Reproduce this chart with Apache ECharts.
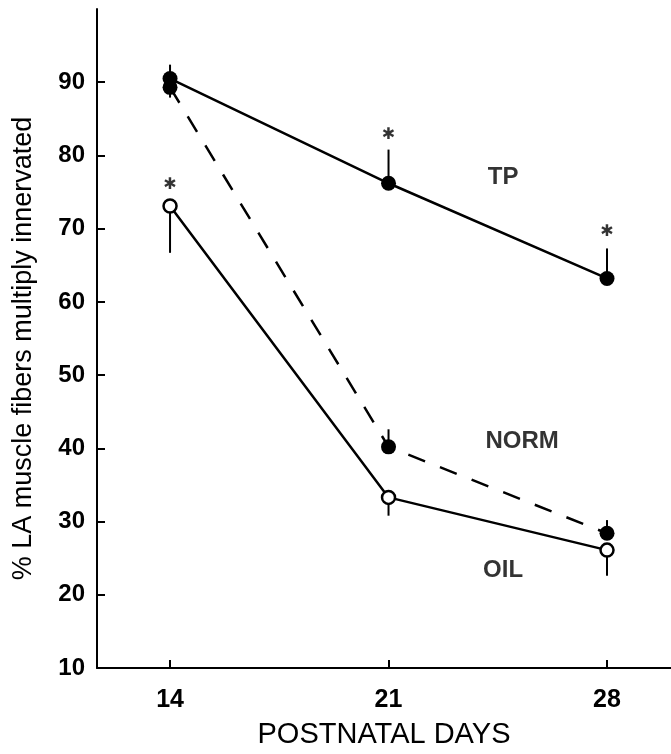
<!DOCTYPE html>
<html>
<head>
<meta charset="utf-8">
<script src="https://cdn.jsdelivr.net/npm/echarts@6/dist/echarts.min.js"></script>
<style>
  html, body { margin: 0; padding: 0; background: #fff; }
  #chart { width: 671px; height: 754px; }
</style>
</head>
<body>
<div id="chart"></div>
<script>
// postnatal days
const days = [14, 21, 28];

// % muscle fibers multiply innervated
const tpValues = [90.5, 76.2, 63.2];
const normValues = [89.3, 40.2, 28.4];
const oilValues = [73.1, 33.3, 26.1];

// error bar ends (one side only, as drawn)
const tpErrEnd = [92.4, 80.8, 67.3];
const normErrEnd = [87.9, 42.6, 30.2];
const oilErrEnd = [66.7, 30.8, 22.6];

// significance asterisks
const starDays = [14, 21, 28];
const starValues = [76.0, 82.8, 69.6];

// curve labels
const curveNames = ['TP', 'NORM', 'OIL'];
const curveNameX = [24.67, 25.28, 24.67];
const curveNameY = [77.0, 41.0, 23.4];

const yTicks = [10, 20, 30, 40, 50, 60, 70, 80, 90];

const font = "'Liberation Sans', Arial, sans-serif";

const pairs = vals => days.map((d, i) => [d, vals[i]]);
const errData = (vals, ends) => days.map((d, i) => [d, vals[i], ends[i]]);

const chart = echarts.init(document.getElementById('chart'));

// one-sided error bar, from the mean to the drawn end
const errSeries = (vals, ends) => ({
  type: 'custom',
  data: errData(vals, ends),
  z: 1,
  silent: true,
  renderItem: (params, api) => {
    const a = api.coord([api.value(0), api.value(1)]);
    const b = api.coord([api.value(0), api.value(2)]);
    return {
      type: 'line',
      shape: { x1: a[0], y1: a[1], x2: b[0], y2: b[1] },
      style: { stroke: '#000', lineWidth: 2 }
    };
  }
});

const option = {
  animation: false,
  backgroundColor: '#fff',
  grid: { left: 97, right: 0, top: 9, bottom: 77 },
  xAxis: {
    type: 'value',
    min: 11.66,
    max: 30.05,
    name: 'POSTNATAL DAYS',
    nameLocation: 'middle',
    nameGap: 52,
    nameTextStyle: { color: '#000', fontSize: 29, fontFamily: font },
    axisLine: { lineStyle: { color: '#000', width: 2 } },
    axisTick: { inside: true, length: 8, customValues: days, lineStyle: { color: '#000', width: 2 } },
    axisLabel: { customValues: days, color: '#000', fontSize: 25, fontWeight: 'bold', fontFamily: font, margin: 20 },
    splitLine: { show: false }
  },
  yAxis: {
    type: 'value',
    min: 10,
    max: 100,
    name: '% LA muscle fibers multiply innervated',
    nameLocation: 'middle',
    nameGap: 60,
    nameTextStyle: { color: '#000', fontSize: 27, fontFamily: font, padding: [0, 20, 0, 0] },
    axisLine: { show: true, lineStyle: { color: '#000', width: 2 } },
    axisTick: { show: true, inside: true, length: 8, customValues: yTicks, lineStyle: { color: '#000', width: 2 } },
    axisLabel: { customValues: yTicks, color: '#000', fontSize: 24, fontWeight: 'bold', fontFamily: font, margin: 12 },
    splitLine: { show: false }
  },
  series: [
    errSeries(tpValues, tpErrEnd),
    errSeries(normValues, normErrEnd),
    errSeries(oilValues, oilErrEnd),
    {
      name: 'NORM',
      type: 'line',
      data: pairs(normValues),
      z: 2,
      symbol: 'circle',
      symbolSize: 15,
      itemStyle: { color: '#000' },
      lineStyle: { color: '#000', width: 2.5, type: [18, 16] }
    },
    {
      name: 'TP',
      type: 'line',
      data: pairs(tpValues),
      z: 3,
      symbol: 'circle',
      symbolSize: 15,
      itemStyle: { color: '#000' },
      lineStyle: { color: '#000', width: 2.5 }
    },
    {
      name: 'OIL',
      type: 'line',
      data: pairs(oilValues),
      z: 3,
      symbol: 'circle',
      symbolSize: 13,
      itemStyle: { color: '#fff', borderColor: '#000', borderWidth: 2.5 },
      lineStyle: { color: '#000', width: 2.5 }
    },
    {
      type: 'scatter',
      data: starDays.map((d, i) => [d, starValues[i]]),
      symbolSize: 1,
      itemStyle: { color: 'rgba(0,0,0,0)' },
      label: {
        show: true,
        position: 'inside',
        formatter: '\u2731',
        color: '#000',
        fontSize: 16,
        fontFamily: "'DejaVu Sans', sans-serif"
      },
      silent: true
    },
    {
      type: 'scatter',
      data: curveNames.map((n, i) => ({ value: [curveNameX[i], curveNameY[i]], name: n })),
      symbolSize: 1,
      itemStyle: { color: 'rgba(0,0,0,0)' },
      label: {
        show: true,
        position: 'inside',
        formatter: p => p.name,
        color: '#000',
        fontSize: 24,
        fontWeight: 'bold',
        fontFamily: font
      },
      silent: true
    }
  ]
};

chart.setOption(option);
</script>
</body>
</html>
